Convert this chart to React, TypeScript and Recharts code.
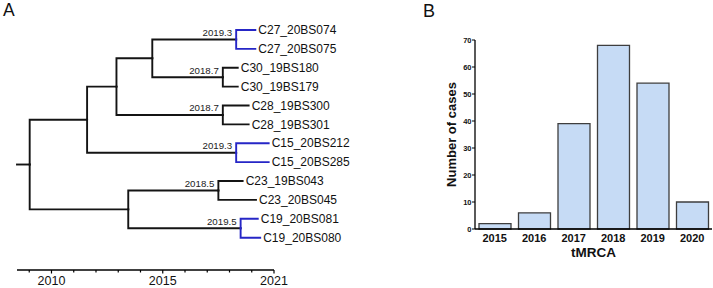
import React from 'react';
import { ComposedChart, Line, Scatter, XAxis, YAxis, BarChart, Bar } from 'recharts';

// ---------- Panel A: time-scaled tree ----------
const tipNames = [
  'C27_20BS074', 'C27_20BS075', 'C30_19BS180', 'C30_19BS179', 'C28_19BS300', 'C28_19BS301',
  'C15_20BS212', 'C15_20BS285', 'C23_19BS043', 'C23_20BS045', 'C19_20BS081', 'C19_20BS080',
];
const tipDates = [2020.16, 2020.16, 2019.37, 2019.37, 2019.86, 2019.86, 2020.76, 2020.76, 2019.59, 2020.19, 2020.27, 2020.38];

const nodeIds = ['root', 'A', 'B', 'C', 'C27', 'C30', 'C28', 'C15', 'D', 'C23', 'C19'];
const nodeDates = [2010.02, 2012.6, 2013.92, 2015.53, 2019.3, 2018.7, 2018.7, 2019.3, 2014.45, 2018.5, 2019.5];
const nodeChildren = [
  ['A', 'D'],
  ['B', 'C15'],
  ['C', 'C28'],
  ['C27', 'C30'],
  ['C27_20BS074', 'C27_20BS075'],
  ['C30_19BS180', 'C30_19BS179'],
  ['C28_19BS300', 'C28_19BS301'],
  ['C15_20BS212', 'C15_20BS285'],
  ['C23', 'C19'],
  ['C23_19BS043', 'C23_20BS045'],
  ['C19_20BS081', 'C19_20BS080'],
];
const labelledNodes = ['C27', 'C30', 'C28', 'C15', 'C23', 'C19'];
const blueNodes = ['C27', 'C15', 'C19'];
const treeStart = 2009.45;
const treeEnd = 2021;

const axisYears = [2010, 2011, 2012, 2013, 2014, 2015, 2016, 2017, 2018, 2019, 2020, 2021];
const majorTickValues = [2011, 2016, 2021];
const majorTickLabels = ['2010', '2015', '2021'];

// ---------- Panel B: bar chart ----------
const barYears = ['2015', '2016', '2017', '2018', '2019', '2020'];
const barCases = [2, 6, 39, 68, 54, 10];
const barTicks = [0, 10, 20, 30, 40, 50, 60, 70];

const BLACK = '#141414';
const BLUE = '#2626c6';
const FONT = 'Arial, "Liberation Sans", Helvetica, sans-serif';

// build tree geometry from the data
const posX: Record<string, number> = {};
const posY: Record<string, number> = {};
tipNames.forEach((n, i) => {
  posX[n] = tipDates[i];
  posY[n] = i;
});
const resolveY = (id: string): number => {
  if (posY[id] !== undefined) return posY[id];
  const k = nodeIds.indexOf(id);
  const ys = nodeChildren[k].map(resolveY);
  const v = ys.reduce((a, b) => a + b, 0) / ys.length;
  posY[id] = v;
  return v;
};
nodeIds.forEach((id, k) => {
  posX[id] = nodeDates[k];
});
nodeIds.forEach((id) => resolveY(id));

type Seg = { pts: { x: number; y: number }[]; color: string };
const segments: Seg[] = [];
segments.push({
  pts: [
    { x: treeStart, y: posY['root'] },
    { x: posX['root'], y: posY['root'] },
  ],
  color: BLACK,
});
nodeIds.forEach((id, k) => {
  const color = blueNodes.includes(id) ? BLUE : BLACK;
  nodeChildren[k].forEach((c) => {
    segments.push({
      pts: [
        { x: posX[id], y: posY[id] },
        { x: posX[id], y: posY[c] },
        { x: posX[c], y: posY[c] },
      ],
      color,
    });
  });
});

const tipPoints = tipNames.map((n, i) => ({ x: tipDates[i], y: i, name: n }));
const nodeLabelPoints = labelledNodes.map((id) => ({
  x: posX[id],
  y: posY[id],
  name: posX[id].toFixed(1),
}));

const barData = barYears.map((y, i) => ({ year: y, cases: barCases[i] }));

const TreeTick = (props: any) => {
  const { x, y, payload } = props;
  const idx = majorTickValues.findIndex((v) => Math.abs(v - Number(payload.value)) < 1e-6);
  return (
    <g>
      <line x1={x} x2={x} y1={y} y2={y + (idx >= 0 ? 3.5 : 2.5)} stroke="#000" strokeWidth={1.2} />
      {idx >= 0 && (
        <text x={x} y={y + 15.2} textAnchor="middle" fontSize={12.5} fill="#111" fontFamily={FONT}>
          {majorTickLabels[idx]}
        </text>
      )}
    </g>
  );
};

const TipLabel = (p: any) => (
  <text x={p.cx + 3} y={p.cy} dy="0.35em" fontSize={12} fill="#111" fontFamily={FONT}>
    {p.payload.name}
  </text>
);

const NodeLabel = (p: any) => (
  <text x={p.cx - 4} y={p.cy - 3.5} textAnchor="end" fontSize={9.7} fill="#222" fontFamily={FONT}>
    {p.payload.name}
  </text>
);

export default function App() {
  return (
    <div style={{ position: 'absolute', left: 0, top: 0, width: 713, height: 288, background: '#fff', fontFamily: FONT }}>
      <div style={{ position: 'absolute', left: 0, top: 0 }}>
        <ComposedChart width={400} height={288} margin={{ top: 11.12, right: 126, bottom: 0, left: 17 }}>
          <XAxis
            type="number"
            dataKey="x"
            domain={[treeStart, treeEnd]}
            ticks={axisYears}
            interval={0}
            height={18}
            tickSize={0}
            tickMargin={0}
            tickLine={false}
            axisLine={{ stroke: '#000', strokeWidth: 1.6 }}
            tick={<TreeTick />}
          />
          <YAxis type="number" dataKey="y" domain={[-1, 12.712]} reversed hide />
          {segments.map((s, i) => (
            <Line
              key={i}
              data={s.pts}
              dataKey="y"
              type="linear"
              stroke={s.color}
              strokeWidth={1.9}
              dot={false}
              activeDot={false}
              isAnimationActive={false}
              strokeLinejoin="miter"
              strokeLinecap="square"
            />
          ))}
          <Scatter data={tipPoints} dataKey="y" shape={<TipLabel />} isAnimationActive={false} />
          <Scatter data={nodeLabelPoints} dataKey="y" shape={<NodeLabel />} isAnimationActive={false} />
        </ComposedChart>
      </div>
      <div style={{ position: 'absolute', left: 3, top: -2, fontSize: 17.5, color: '#111', lineHeight: '24px' }}>A</div>

      <div style={{ position: 'absolute', left: 400, top: 0 }}>
        <BarChart width={313} height={288} data={barData} margin={{ top: 40, right: 1, bottom: 0, left: 0 }} barSize={32}>
          <XAxis
            dataKey="year"
            height={59}
            tickLine={false}
            tickSize={0}
            tickMargin={5.5}
            interval={0}
            axisLine={{ stroke: '#000', strokeWidth: 1.4 }}
            tick={{ fontSize: 11, fontWeight: 'bold', fill: '#111', fontFamily: FONT }}
            label={{
              value: 'tMRCA',
              position: 'insideTop',
              offset: 18.5,
              style: { fontSize: 13.5, fontWeight: 'bold', fill: '#111', fontFamily: FONT },
            }}
          />
          <YAxis
            width={75}
            domain={[0, 70]}
            ticks={barTicks}
            interval={0}
            tickSize={3}
            tickMargin={0.5}
            axisLine={{ stroke: '#000', strokeWidth: 1.3 }}
            tickLine={{ stroke: '#000', strokeWidth: 1 }}
            tick={{ fontSize: 7.5, fontWeight: 'bold', fill: '#111', fontFamily: FONT }}
            label={{
              value: 'Number of cases',
              angle: -90,
              position: 'insideLeft',
              offset: 51.5,
              style: { textAnchor: 'middle', fontSize: 13, fontWeight: 'bold', fill: '#111', fontFamily: FONT },
            }}
          />
          <Bar dataKey="cases" fill="#c6dbf5" stroke="#3e3e3e" strokeWidth={1.3} isAnimationActive={false} />
        </BarChart>
      </div>
      <div style={{ position: 'absolute', left: 423, top: -1, fontSize: 18, color: '#111', lineHeight: '24px' }}>B</div>
    </div>
  );
}
